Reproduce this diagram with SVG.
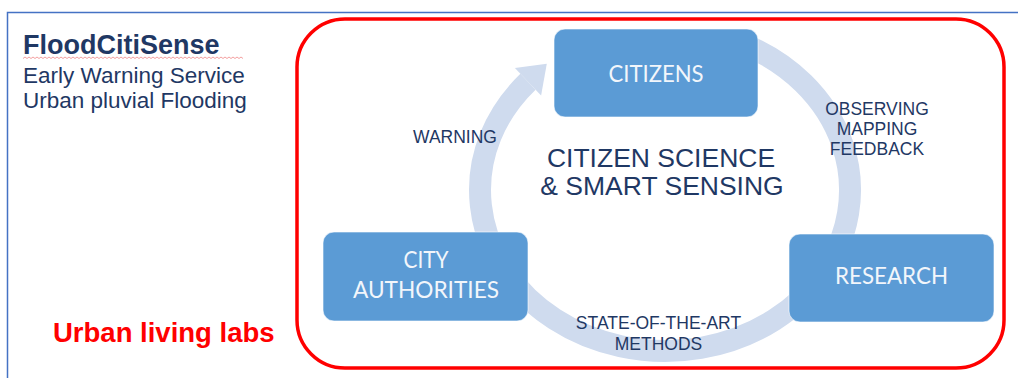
<svg xmlns="http://www.w3.org/2000/svg" width="1018" height="378" viewBox="0 0 1018 378">
  <style>
    .box { fill: #5B9BD5; stroke: #ffffff; stroke-opacity: 0.6; stroke-width: 1; }
    .boxtxt { font-family: Lato, "Open Sans", "Liberation Sans", sans-serif; font-size: 23.5px; fill: #F2F6FB; text-anchor: middle; }
    .lbl { font-family: "Liberation Sans", Arial, sans-serif; font-size: 17.5px; fill: #1F3864; text-anchor: middle; }
    .center { font-family: "Liberation Sans", Arial, sans-serif; font-size: 26.5px; fill: #1F3864; text-anchor: middle; }
    .ring { fill: none; stroke: #CFDBEE; stroke-width: 22; }
  </style>
  <rect width="1018" height="378" fill="#ffffff"/>
  <!-- blue frame -->
  <rect x="7.5" y="12.5" width="1030" height="390" fill="none" stroke="#4472C4" stroke-width="1.5"/>
  <!-- title texts -->
  <g id="title">
    <text x="23" y="54" font-family="'Liberation Sans', Arial, sans-serif" font-size="27" font-weight="bold" fill="#1F3864">FloodCitiSense</text>
    <path d="M23 58.5 l2 -1.5 l2 1.5 l2 -1.5 l2 1.5 l2 -1.5 l2 1.5 l2 -1.5 l2 1.5 l2 -1.5 l2 1.5 l2 -1.5 l2 1.5 l2 -1.5 l2 1.5 l2 -1.5 l2 1.5 l2 -1.5 l2 1.5 l2 -1.5 l2 1.5 l2 -1.5 l2 1.5 l2 -1.5 l2 1.5 l2 -1.5 l2 1.5 l2 -1.5 l2 1.5 l2 -1.5 l2 1.5 l2 -1.5 l2 1.5 l2 -1.5 l2 1.5 l2 -1.5 l2 1.5 l2 -1.5 l2 1.5 l2 -1.5 l2 1.5 l2 -1.5 l2 1.5 l2 -1.5 l2 1.5 l2 -1.5 l2 1.5 l2 -1.5 l2 1.5 l2 -1.5 l2 1.5 l2 -1.5 l2 1.5 l2 -1.5 l2 1.5 l2 -1.5 l2 1.5 l2 -1.5 l2 1.5 l2 -1.5 l2 1.5 l2 -1.5 l2 1.5 l2 -1.5 l2 1.5 l2 -1.5 l2 1.5 l2 -1.5 l2 1.5 l2 -1.5 l2 1.5 l2 -1.5 l2 1.5 l2 -1.5 l2 1.5 l2 -1.5 l2 1.5 l2 -1.5 l2 1.5 l2 -1.5 l2 1.5 l2 -1.5 l2 1.5 l2 -1.5 l2 1.5 l2 -1.5 l2 1.5 l2 -1.5 l2 1.5 l2 -1.5 l2 1.5 l2 -1.5 l2 1.5 l2 -1.5 l2 1.5 l2 -1.5 l2 1.5 l2 -1.5 l2 1.5 l2 -1.5 l2 1.5 l2 -1.5 l2 1.5 l2 -1.5 l2 1.5 l2 -1.5 l2 1.5 l2 -1.5 l2 1.5 l2 -1.5 l2 1.5" fill="none" stroke="#F4A0A0" stroke-width="1"/>
    <text x="23" y="83" font-family="'Liberation Sans', Arial, sans-serif" font-size="22.5" fill="#1F3864">Early Warning Service</text>
    <text x="23" y="108" font-family="'Liberation Sans', Arial, sans-serif" font-size="22.5" fill="#1F3864">Urban pluvial Flooding</text>
    <text x="53" y="342" font-family="'Liberation Sans', Arial, sans-serif" font-size="27.5" font-weight="bold" fill="#FF0000">Urban living labs</text>
  </g>
  <!-- red living lab frame -->
  <rect id="living-lab-frame" x="297" y="19" width="707" height="349" rx="48" ry="48" fill="none" stroke="#FF0000" stroke-width="3.5"/>
  <!-- connectors: cycle ring with arrow -->
  <g id="connectors">
    <path class="ring" d="M745 44.8 A185 161 0 1 1 528 81.8"/>
    <polygon points="514.9,68.1 546.8,63.8 541.1,95.5" fill="#CFDBEE"/>
    <text class="lbl" x="455" y="143">WARNING</text>
    <text class="lbl" x="877" y="115">OBSERVING</text>
    <text class="lbl" x="877" y="135">MAPPING</text>
    <text class="lbl" x="877" y="155">FEEDBACK</text>
    <text class="lbl" x="658.5" y="329">STATE-OF-THE-ART</text>
    <text class="lbl" x="658.5" y="350">METHODS</text>
  </g>
  <g id="center-label">
    <text class="center" x="661" y="167">CITIZEN SCIENCE</text>
    <text class="center" x="662" y="195">&amp; SMART SENSING</text>
  </g>
  <g id="citizens">
    <rect class="box" x="554" y="29" width="204" height="88" rx="11"/>
    <text class="boxtxt" x="656" y="82" textLength="95" lengthAdjust="spacingAndGlyphs">CITIZENS</text>
  </g>
  <g id="city-authorities">
    <rect class="box" x="323" y="232" width="205" height="89" rx="11"/>
    <text class="boxtxt" x="426" y="268" textLength="45" lengthAdjust="spacingAndGlyphs">CITY</text>
    <text class="boxtxt" x="426" y="298" textLength="146" lengthAdjust="spacingAndGlyphs">AUTHORITIES</text>
  </g>
  <g id="research">
    <rect class="box" x="789" y="234" width="205" height="88" rx="11"/>
    <text class="boxtxt" x="891.5" y="284" textLength="113" lengthAdjust="spacingAndGlyphs">RESEARCH</text>
  </g>
</svg>
